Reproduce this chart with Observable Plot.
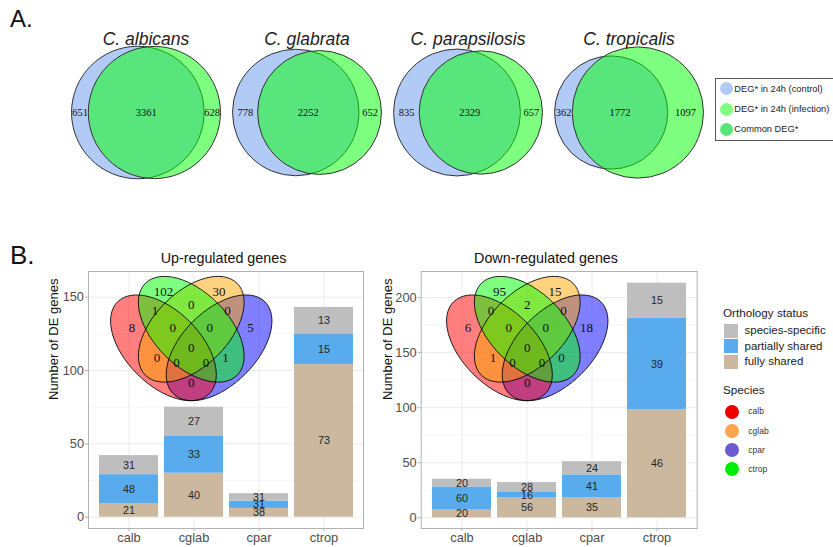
<!DOCTYPE html>
<html>
<head>
<meta charset="utf-8">
<script src="https://cdn.jsdelivr.net/npm/d3@7"></script>
<script src="https://cdn.jsdelivr.net/npm/@observablehq/plot@0.6"></script>
<style>
  html, body { margin: 0; padding: 0; background: #fff; }
  #root { position: relative; width: 833px; height: 547px; overflow: hidden; font-family: "Liberation Sans", Arial, sans-serif; }
  #root svg { overflow: visible; }
  .t { position: absolute; white-space: nowrap; }
</style>
</head>
<body>
<div id="root"></div>
<script>
// ---------------- data ----------------
const species = ["calb", "cglab", "cpar", "ctrop"];
const speciesTitles = ["C. albicans", "C. glabrata", "C. parapsilosis", "C. tropicalis"];

// Panel A: two-set Venn counts
const deControlOnly = [651, 778, 835, 362];
const deCommon = [3361, 2252, 2329, 1772];
const deInfectionOnly = [628, 652, 657, 1097];
const vennLegendLabels = ["DEG* in 24h (control)", "DEG* in 24h (infection)", "Common DEG*"];

// Panel B: stacked bars (gene counts) and their percentage labels
const orthologyStatus = ["fully shared", "partially shared", "species-specific"];
const upFully = [9, 30, 6, 104];
const upPartial = [20, 25, 5, 21];
const upSpecific = [13, 20, 5, 18];
const upFullyPct = [21, 40, 38, 73];
const upPartialPct = [48, 33, 31, 15];
const upSpecificPct = [31, 27, 31, 13];

const downFully = [7, 18, 18, 98];
const downPartial = [21, 5, 21, 83];
const downSpecific = [7, 9, 12, 32];
const downFullyPct = [20, 56, 35, 46];
const downPartialPct = [60, 16, 41, 39];
const downSpecificPct = [20, 28, 24, 15];

const upTicks = [0, 50, 100, 150];
const upMinorTicks = [25, 75, 125];
const downTicks = [0, 50, 100, 150, 200];
const downMinorTicks = [25, 75, 125, 175];

// Panel B: four-set Venn region counts
const vennRegions = ["calb", "ctrop", "cglab", "cpar",
  "calb&ctrop", "ctrop&cglab", "cglab&cpar",
  "calb&ctrop&cglab", "ctrop&cglab&cpar", "calb&ctrop&cglab&cpar",
  "calb&cglab", "calb&cglab&cpar", "calb&ctrop&cpar", "ctrop&cpar", "calb&cpar"];
const upVennCounts = [8, 102, 30, 5, 1, 0, 0, 0, 0, 0, 0, 0, 0, 1, 0];
const downVennCounts = [6, 95, 15, 18, 0, 2, 0, 0, 0, 0, 1, 0, 0, 0, 0];

// ---------------- styles / layout templates ----------------
const statusColors = ["#ccb89e", "#58abec", "#bebebe"];
const speciesColors = {calb: "#ee0000", cglab: "#ffa54f", cpar: "#6a5acd", ctrop: "#00ee00"};
const vennSetColors = {calb: "#ff0000", ctrop: "#00ff00", cglab: "#ffa500", cpar: "#0000ff"};
const font = "Liberation Sans, Arial, sans-serif";
const serif = "Liberation Serif, Times New Roman, serif";

// four-ellipse template in the unit square (VennDiagram quad layout), in drawing order
const quadEllipses = [
  {set: "cpar", x: 0.65, y: 0.47, tilt: -45},
  {set: "calb", x: 0.35, y: 0.47, tilt: 45},
  {set: "cglab", x: 0.50, y: 0.57, tilt: -45},
  {set: "ctrop", x: 0.50, y: 0.57, tilt: 45}
];
const quadA = 0.35, quadB = 0.2;
const quadLabelPos = {
  "calb": [0.18, 0.58], "ctrop": [0.35, 0.77], "cglab": [0.65, 0.77], "cpar": [0.82, 0.58],
  "calb&ctrop": [0.305, 0.67], "ctrop&cglab": [0.5, 0.70], "cglab&cpar": [0.695, 0.67],
  "calb&ctrop&cglab": [0.40, 0.58], "ctrop&cglab&cpar": [0.60, 0.58], "calb&ctrop&cglab&cpar": [0.5, 0.47],
  "calb&cglab": [0.315, 0.415], "calb&cglab&cpar": [0.42, 0.39], "calb&ctrop&cpar": [0.58, 0.39],
  "ctrop&cpar": [0.685, 0.415], "calb&cpar": [0.5, 0.28]
};

const root = document.getElementById("root");
function place(node, left, top, w) {
  const d = document.createElement("div");
  d.style.cssText = `position:absolute;left:${left}px;top:${top}px;width:${w}px;`;
  d.appendChild(node);
  root.appendChild(d);
}
function textAt(str, left, cy, size, color, extra = "") {
  const d = document.createElement("div");
  const lh = Math.round(size * 1.3);
  d.className = "t";
  d.style.cssText = `left:${left}px;top:${cy - lh / 2}px;line-height:${lh}px;font-size:${size}px;color:${color};${extra}`;
  d.textContent = str;
  root.appendChild(d);
}
function blob(cx, cy, r, color) {
  const d = document.createElement("div");
  d.style.cssText = `position:absolute;left:${cx - r}px;top:${cy - r}px;width:${2 * r}px;height:${2 * r}px;border-radius:50%;background:${color};`;
  root.appendChild(d);
}

// ---------------- Panel A ----------------
function lensArea(r1, r2, d) {
  if (d >= r1 + r2) return 0;
  if (d <= Math.abs(r1 - r2)) return Math.PI * Math.min(r1, r2) ** 2;
  const a1 = Math.acos((d * d + r1 * r1 - r2 * r2) / (2 * d * r1));
  const a2 = Math.acos((d * d + r2 * r2 - r1 * r1) / (2 * d * r2));
  return r1 * r1 * a1 + r2 * r2 * a2 - 0.5 * Math.sqrt((-d + r1 + r2) * (d + r1 - r2) * (d - r1 + r2) * (d + r1 + r2));
}
function solveDistance(r1, r2, target) {
  let lo = Math.abs(r1 - r2), hi = r1 + r2;
  for (let k = 0; k < 80; ++k) {
    const m = (lo + hi) / 2;
    if (lensArea(r1, r2, m) > target) lo = m; else hi = m;
  }
  return (lo + hi) / 2;
}
const vennCircles = [], vennLabels = [];
species.forEach((sp, i) => {
  const A = deControlOnly[i] + deCommon[i], B = deInfectionOnly[i] + deCommon[i];
  const r1 = Math.sqrt(A / Math.PI), r2 = Math.sqrt(B / Math.PI);
  const d = solveDistance(r1, r2, deCommon[i]);
  const left = Math.min(-r1, d - r2), right = Math.max(r1, d + r2);
  const w = right - left, mid = (left + right) / 2;
  const n = (v) => (v - mid) / w;
  vennCircles.push({sp, set: "control", x: n(0), y: 0, r: r1 / w});
  vennCircles.push({sp, set: "infection", x: n(d), y: 0, r: r2 / w});
  vennLabels.push({sp, x: n((-r1 + d - r2) / 2), y: 0, text: deControlOnly[i]});
  vennLabels.push({sp, x: n((d - r2 + r1) / 2), y: 0, text: deCommon[i]});
  vennLabels.push({sp, x: n((r1 + d + r2) / 2), y: 0, text: deInfectionOnly[i]});
});

const unitPx = 149, facetW = 161.5, topH = 200, topCy = 112;
const hw = facetW / unitPx / 2;
const topPlot = Plot.plot({
  width: 64 + 4 * facetW + 2, height: topH,
  marginLeft: 64, marginRight: 2, marginTop: 0, marginBottom: 0,
  fx: {domain: species, padding: 0, axis: null},
  x: {domain: [-hw, hw], axis: null},
  y: {domain: [-(topH - topCy) / unitPx, topCy / unitPx], axis: null},
  r: {type: "linear", domain: [0, 1], range: [0, unitPx]},
  style: {background: "transparent", overflow: "visible", fontFamily: font},
  marks: [
    Plot.dot(vennCircles.filter(d => d.set === "control"), {fx: "sp", x: "x", y: "y", r: "r", fill: "#6495ed", fillOpacity: 0.5, stroke: "#333", strokeWidth: 1}),
    Plot.dot(vennCircles.filter(d => d.set === "infection"), {fx: "sp", x: "x", y: "y", r: "r", fill: "#00ff00", fillOpacity: 0.5, stroke: "#333", strokeWidth: 1}),
    Plot.text(vennLabels, {fx: "sp", x: "x", y: "y", text: d => String(d.text), fontFamily: serif, fontSize: 10.5, fill: "#111"}),
    Plot.text(species, {fx: d => d, text: (d, i) => speciesTitles[i], frameAnchor: "top", dy: 32, fontSize: 17.5, fontStyle: "italic", fill: "#222"})
  ]
});
place(topPlot, 0, 0, 64 + 4 * facetW + 2);

// legend box for panel A
const box = document.createElement("div");
box.style.cssText = "position:absolute;left:715px;top:78px;width:140px;height:63px;box-sizing:border-box;border:1.5px solid #555;";
root.appendChild(box);
const legendFills = ["#b2caf6", "#80ff80", "#59e47b"];
const legendY = [88.5, 109.3, 129.3];
vennLegendLabels.forEach((lab, i) => {
  blob(726.7, legendY[i], 6.8, legendFills[i]);
  textAt(lab, 734.3, legendY[i], 9.3, "#222");
});

textAt("A.", 10, 18, 24, "#111");
textAt("B.", 10, 254.7, 26, "#111");

// ---------------- Panel B ----------------
function stackedBars(fully, partial, specific, fullyPct, partialPct, specificPct) {
  return species.flatMap((s, i) => [
    {species: s, status: orthologyStatus[0], n: fully[i], pct: fullyPct[i]},
    {species: s, status: orthologyStatus[1], n: partial[i], pct: partialPct[i]},
    {species: s, status: orthologyStatus[2], n: specific[i], pct: specificPct[i]}
  ]);
}
const upData = stackedBars(upFully, upPartial, upSpecific, upFullyPct, upPartialPct, upSpecificPct);
const downData = stackedBars(downFully, downPartial, downSpecific, downFullyPct, downPartialPct, downSpecificPct);

function barPanel({data, yDomain, major, minor, title, titleDx, yTitleDx, width, marginLeft, marginRight}) {
  return Plot.plot({
    width, height: 309, marginLeft, marginRight, marginTop: 33, marginBottom: 19,
    x: {domain: species, paddingInner: 0.1, paddingOuter: 0.15, axis: null},
    y: {domain: yDomain, axis: null},
    color: {domain: orthologyStatus, range: statusColors},
    style: {background: "transparent", overflow: "visible", fontFamily: font},
    marks: [
      Plot.ruleY(minor, {stroke: "#f4f4f4", strokeWidth: 0.8}),
      Plot.ruleY(major, {stroke: "#ebebeb", strokeWidth: 1}),
      Plot.gridX({stroke: "#ebebeb", strokeOpacity: 1, strokeWidth: 1}),
      Plot.barY(data, {x: "species", y: "n", fill: "status"}),
      Plot.text(data, Plot.stackY({x: "species", y: "n", text: d => String(d.pct), fontSize: 10.8, fill: "#262626"})),
      Plot.frame({stroke: "#b3b3b3", strokeWidth: 1}),
      Plot.axisX({tickSize: 3, tickPadding: 1.5, stroke: "#b3b3b3", fill: "#4d4d4d", fontSize: 12.8, label: null}),
      Plot.axisY(major, {tickSize: 3, tickPadding: 1.5, stroke: "#b3b3b3", fill: "#4d4d4d", fontSize: 12.8, label: null}),
      Plot.text([title], {text: d => d, frameAnchor: "top", dy: -19, dx: titleDx, fontSize: 14.3, fill: "#111"}),
      Plot.text(["Number of DE genes"], {text: d => d, frameAnchor: "left", dx: yTitleDx, rotate: -90, fontSize: 13, fill: "#111"})
    ]
  });
}

place(barPanel({data: upData, yDomain: [-7.7, 167.5], major: upTicks, minor: upMinorTicks,
  title: "Up-regulated genes", titleDx: -2.5, yTitleDx: -34.5, width: 370, marginLeft: 88, marginRight: 7}), 0, 238, 370);
place(barPanel({data: downData, yDomain: [-9.7, 223.6], major: downTicks, minor: downMinorTicks,
  title: "Down-regulated genes", titleDx: -13.2, yTitleDx: -33.4, width: 375, marginLeft: 90.7, marginRight: 8.3}), 330, 238, 375);

// four-set Venn overlays
function ellipseSymbol(ratio, deg) {
  const t = deg * Math.PI / 180, c = Math.cos(t), s = Math.sin(t), k = 0.5522847498;
  return {
    draw(ctx, size) {
      const a = Math.sqrt(size / Math.PI), b = a * ratio;
      const pts = [[a, 0], [a, k * b], [k * a, b], [0, b], [-k * a, b], [-a, k * b], [-a, 0],
        [-a, -k * b], [-k * a, -b], [0, -b], [k * a, -b], [a, -k * b], [a, 0]]
        .map(([u, v]) => [u * c - v * s, u * s + v * c]);
      ctx.moveTo(pts[0][0], pts[0][1]);
      for (let i = 1; i < pts.length; i += 3) {
        ctx.bezierCurveTo(pts[i][0], pts[i][1], pts[i + 1][0], pts[i + 1][1], pts[i + 2][0], pts[i + 2][1]);
      }
      ctx.closePath();
    }
  };
}
const quadS = 185.5;
function quadVenn(counts) {
  const labels = vennRegions.map((r, i) => ({x: quadLabelPos[r][0], y: quadLabelPos[r][1], n: counts[i]}));
  const fills = quadEllipses.map(e => Plot.dot([e], {x: "x", y: "y", r: () => quadA,
    symbol: ellipseSymbol(quadB / quadA, e.tilt), fill: d => vennSetColors[d.set], fillOpacity: 0.5, stroke: "none"}));
  const outlines = quadEllipses.map(e => Plot.dot([e], {x: "x", y: "y", r: () => quadA,
    symbol: ellipseSymbol(quadB / quadA, e.tilt), fill: "none", stroke: "#000", strokeWidth: 1, strokeOpacity: 0.85}));
  return Plot.plot({
    width: quadS, height: quadS, margin: 0,
    x: {domain: [0, 1], axis: null},
    y: {domain: [0, 1], axis: null},
    r: {type: "linear", domain: [0, 1], range: [0, quadS]},
    color: {type: "identity"},
    style: {background: "transparent", overflow: "visible", fontFamily: font},
    marks: [
      ...fills,
      ...outlines,
      Plot.text(labels, {x: "x", y: "y", text: d => String(d.n), fontFamily: serif, fontSize: 13, fill: "#111"})
    ]
  });
}
place(quadVenn(upVennCounts), 97.9, 249.1, quadS);
place(quadVenn(downVennCounts), 433.9, 249.1, quadS);

// legends for panel B
textAt("Orthology status", 723, 312.5, 11.7, "#1a1a1a");
const swY = [330.5, 346, 361.5];
[2, 1, 0].forEach((k, j) => {
  const d = document.createElement("div");
  d.style.cssText = `position:absolute;left:724px;top:${swY[j] - 7}px;width:14px;height:14px;background:${statusColors[k]};`;
  root.appendChild(d);
  textAt(orthologyStatus[k], 744.5, swY[j], 11.5, "#1a1a1a");
});
textAt("Species", 723, 389.5, 11.7, "#1a1a1a");
const spY = [411.7, 431, 450, 469];
species.forEach((sp, i) => {
  blob(732.3, spY[i], 7, speciesColors[sp]);
  textAt(sp, 748.3, spY[i], 8.5, "#333");
});
</script>
</body>
</html>
